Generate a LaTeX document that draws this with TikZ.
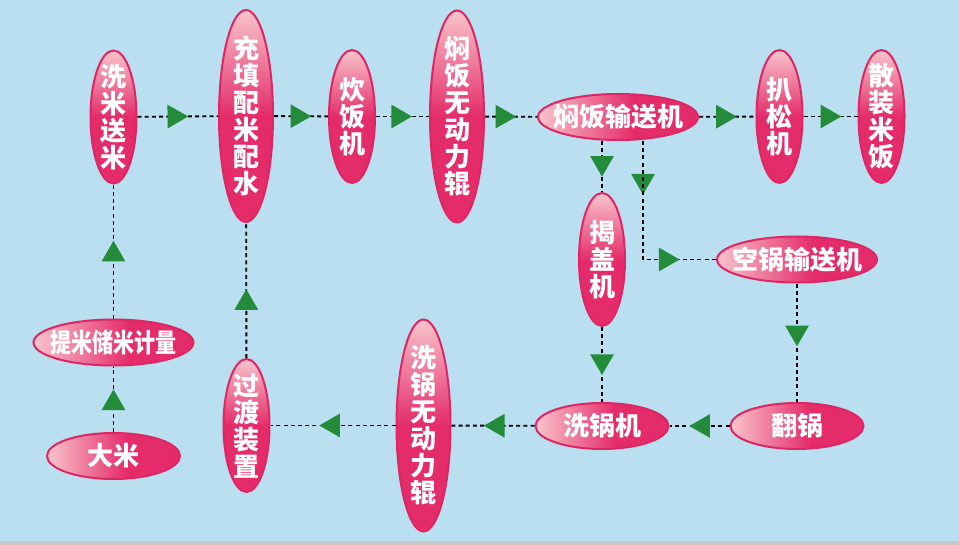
\documentclass[tikz,border=0pt]{standalone}
\usepackage{fontspec}
\newfontfamily\cjk{Noto Sans CJK SC}
\usetikzlibrary{shapes.geometric,arrows.meta,decorations.markings,calc}

\definecolor{skyback}{RGB}{186,223,241}
\definecolor{rosedeep}{RGB}{228,44,106}
\definecolor{rosepale}{RGB}{249,196,204}
\definecolor{roseedge}{RGB}{222,38,100}
\definecolor{flowgreen}{RGB}{36,139,59}
\pgfdeclareverticalshading{rosevert}{100bp}{color(0bp)=(rosedeep); color(50bp)=(rosedeep); color(75bp)=(rosepale); color(100bp)=(rosepale)}
\pgfdeclarehorizontalshading{rosehorz}{100bp}{color(0bp)=(rosepale); color(25bp)=(rosepale); color(55bp)=(rosedeep); color(100bp)=(rosedeep)}

\begin{document}
\begin{tikzpicture}[x=0.75pt,y=0.75pt,yscale=-1,xscale=1,
  vpill/.style={ellipse, draw=roseedge, line width=1.5pt, shade, shading=rosevert, minimum width=34.5pt, minimum height=99.75pt, inner sep=0pt},
  vlong/.style={vpill, minimum width=40.5pt, minimum height=159pt},
  hpill/.style={ellipse, draw=roseedge, line width=1.5pt, shade, shading=rosehorz, minimum width=99.75pt, minimum height=34.5pt, inner sep=0pt},
  hlong/.style={hpill, minimum width=120pt},
  caption/.style={text=white, font=\cjk\bfseries\fontsize{19.5pt}{20.25pt}\selectfont, align=center, inner sep=0pt},
  flow/.style={draw=black, line width=1.4pt, dash pattern=on 3pt off 2.4pt, postaction={decorate},
    decoration={markings, mark=at position #1 with {\arrow{Triangle[length=15.5pt,width=17.5pt,color=flowgreen]}}}}]
\useasboundingbox (0,0) rectangle (959,545);
\fill[skyback] (0,0) rectangle (959,545);
\fill[black!22] (0,541) rectangle (959,545);

%Shape: Ellipse [row 1]
\node[vpill] (wash) at (113.5,117) {};
\node[vlong] (dose) at (246,116) {};
\node[vpill] (cook) at (352,116.5) {};
\node[vlong] (stewroll) at (457,116.5) {};
\node[hlong] (stewbelt) at (618,117) {};
\node[vpill] (loosen) at (779.5,116.5) {};
\node[vpill] (bulk) at (881.5,116.5) {};
%Shape: Ellipse [middle]
\node[vpill] (lid) at (602,259.5) {};
\node[hlong] (emptybelt) at (797,259.5) {};
\node[hlong] (store) at (113.5,342.5) {};
%Shape: Ellipse [row 3]
\node[hpill] (flip) at (797,426) {};
\node[hpill] (potwash) at (602,426) {};
\node[vlong] (washroll) at (423.5,425.5) {};
\node[vpill] (transfer) at (246.5,425.5) {};
\node[hpill] (rice) at (113.5,456) {};

% Text Node
\node[caption] (wash-t) at (wash) {洗\\米\\送\\米};
\node[caption] (dose-t) at (dose) {充\\填\\配\\米\\配\\水};
\node[caption] (cook-t) at (cook) {炊\\饭\\机};
\node[caption] (stewroll-t) at (stewroll) {焖\\饭\\无\\动\\力\\辊};
\node[caption] (stewbelt-t) at (stewbelt) {焖饭输送机};
\node[caption] (loosen-t) at (loosen) {扒\\松\\机};
\node[caption] (bulk-t) at (bulk) {散\\装\\米\\饭};
\node[caption] (lid-t) at (lid) {揭\\盖\\机};
\node[caption] (emptybelt-t) at (emptybelt) {空锅输送机};
\node[caption] (store-t) at (store) {\scalebox{0.81}[1]{提米储米计量}};
\node[caption] (flip-t) at (flip) {翻锅};
\node[caption] (potwash-t) at (potwash) {洗锅机};
\node[caption] (washroll-t) at (washroll) {洗\\锅\\无\\动\\力\\辊};
\node[caption] (transfer-t) at (transfer) {过\\渡\\装\\置};
\node[caption] (rice-t) at (rice) {大米};

%Straight Lines
\draw[flow=0.63] (wash) -- (dose);
\draw[flow=0.69] (dose) -- (cook);
\draw[flow=0.68] (cook) -- (stewroll);
\draw[flow=0.6] (stewroll) -- (stewbelt);
\draw[flow=0.67] (stewbelt) -- (loosen);
\draw[flow=0.7] (loosen) -- (bulk);
\draw[flow=0.7] (lid.north |- stewbelt.south) -- (lid);
\draw[flow=0.28] ($(stewbelt.south)+(25,0)$) |- (emptybelt);
\path[flow=0.81] ($(stewbelt.south)+(25,0)$) |- (emptybelt);
\draw[flow=0.53] (emptybelt) -- (flip);
\draw[flow=0.64] (lid) -- (potwash);
\draw[flow=0.67] (flip) -- (potwash);
\draw[flow=0.61] (potwash) -- (washroll);
\draw[flow=0.61] (washroll) -- (transfer);
\draw[flow=0.51] (transfer) -- (dose);
\draw[flow=0.65] (rice) -- (store);
\draw[flow=0.58] (store) -- (wash);

\end{tikzpicture}
\end{document}
